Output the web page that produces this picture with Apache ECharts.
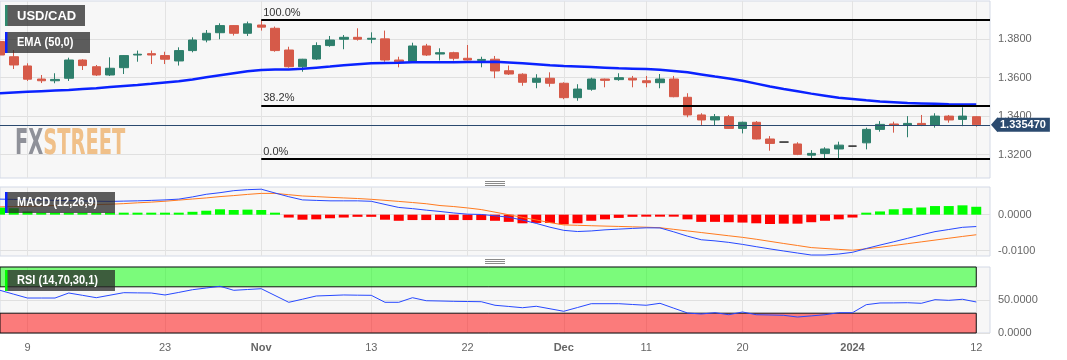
<!DOCTYPE html>
<html>
<head>
<meta charset="utf-8">
<script src="https://cdn.jsdelivr.net/npm/echarts@6/dist/echarts.min.js"></script>
<style>
html,body{margin:0;padding:0;background:#ffffff;}
#c{width:1067px;height:360px;}
</style>
</head>
<body>
<div id="c"></div>
<script>
// ---------- DATA ----------
const dates = [
 '2023-10-05','2023-10-06',
 '2023-10-09','2023-10-10','2023-10-11','2023-10-12','2023-10-13',
 '2023-10-16','2023-10-17','2023-10-18','2023-10-19','2023-10-20',
 '2023-10-23','2023-10-24','2023-10-25','2023-10-26','2023-10-27',
 '2023-10-30','2023-10-31','2023-11-01','2023-11-02','2023-11-03',
 '2023-11-06','2023-11-07','2023-11-08','2023-11-09','2023-11-10',
 '2023-11-13','2023-11-14','2023-11-15','2023-11-16','2023-11-17',
 '2023-11-20','2023-11-21','2023-11-22','2023-11-23','2023-11-24',
 '2023-11-27','2023-11-28','2023-11-29','2023-11-30','2023-12-01',
 '2023-12-04','2023-12-05','2023-12-06','2023-12-07','2023-12-08',
 '2023-12-11','2023-12-12','2023-12-13','2023-12-14','2023-12-15',
 '2023-12-18','2023-12-19','2023-12-20','2023-12-21','2023-12-22',
 '2023-12-25','2023-12-26','2023-12-27','2023-12-28','2023-12-29',
 '2024-01-01','2024-01-02','2024-01-03','2024-01-04','2024-01-05',
 '2024-01-08','2024-01-09','2024-01-10','2024-01-11','2024-01-12'
];
const axisPadDate = '2024-01-15';

const open = [
 1.3788,1.3709,
 1.3661,1.3593,1.3584,1.3597,1.3692,
 1.3657,1.3614,1.3652,1.3718,1.3725,
 1.3715,1.3687,1.3741,1.3796,1.3834,
 1.3871,1.3831,1.3874,1.3857,1.3744,
 1.3657,1.3697,1.3767,1.3800,1.3810,
 1.3800,1.3802,1.3692,1.3683,1.3765,
 1.3723,1.3730,1.3701,1.3690,1.3696,
 1.3636,1.3618,1.3576,1.3597,1.3571,
 1.3496,1.3540,1.3593,1.3590,1.3597,
 1.3584,1.3574,1.3593,1.3498,1.3406,
 1.3380,1.3397,1.3336,1.3368,1.3281,
 1.3265,1.3255,1.3197,1.3206,1.3229,
 1.3244,1.3261,1.3331,1.3359,1.3352,
 1.3362,1.3354,1.3400,1.3383,1.3397
];
const close = [
 1.3718,1.3666,
 1.3592,1.3584,1.3591,1.3692,1.3663,
 1.3614,1.3649,1.3715,1.3722,1.3718,
 1.3696,1.3741,1.3796,1.3831,1.3871,
 1.3831,1.3880,1.3863,1.3741,1.3657,
 1.3696,1.3767,1.3796,1.3810,1.3800,
 1.3805,1.3692,1.3683,1.3765,1.3718,
 1.3730,1.3701,1.3692,1.3695,1.3635,
 1.3619,1.3576,1.3597,1.3571,1.3496,
 1.3541,1.3593,1.3586,1.3600,1.3588,
 1.3574,1.3593,1.3501,1.3406,1.3380,
 1.3397,1.3336,1.3368,1.3281,1.3258,
 1.3265,1.3201,1.3206,1.3229,1.3249,
 1.3244,1.3331,1.3357,1.3352,1.3362,
 1.3354,1.3400,1.3380,1.3400,1.3355
];
const low = [
 1.3708,1.3645,
 1.3583,1.3572,1.3571,1.3583,1.3640,
 1.3609,1.3609,1.3619,1.3683,1.3671,
 1.3671,1.3663,1.3732,1.3784,1.3800,
 1.3819,1.3817,1.3845,1.3735,1.3652,
 1.3631,1.3692,1.3761,1.3748,1.3793,
 1.3779,1.3683,1.3654,1.3680,1.3713,
 1.3689,1.3689,1.3689,1.3654,1.3597,
 1.3614,1.3558,1.3545,1.3553,1.3488,
 1.3480,1.3532,1.3550,1.3584,1.3550,
 1.3550,1.3545,1.3498,1.3394,1.3354,
 1.3350,1.3334,1.3310,1.3279,1.3220,
 1.3265,1.3197,1.3178,1.3178,1.3178,
 1.3244,1.3227,1.3319,1.3314,1.3290,
 1.3348,1.3340,1.3366,1.3348,1.3345
];
const high = [
 1.3807,1.3744,
 1.3675,1.3614,1.3623,1.3704,1.3696,
 1.3666,1.3706,1.3718,1.3741,1.3741,
 1.3735,1.3758,1.3810,1.3848,1.3883,
 1.3874,1.3892,1.3900,1.3866,1.3761,
 1.3698,1.3784,1.3817,1.3822,1.3857,
 1.3836,1.3845,1.3709,1.3782,1.3776,
 1.3753,1.3735,1.3770,1.3709,1.3713,
 1.3663,1.3623,1.3618,1.3628,1.3576,
 1.3566,1.3600,1.3595,1.3623,1.3609,
 1.3609,1.3619,1.3609,1.3519,1.3415,
 1.3411,1.3406,1.3371,1.3374,1.3296,
 1.3265,1.3264,1.3223,1.3238,1.3267,
 1.3244,1.3340,1.3374,1.3371,1.3400,
 1.3406,1.3415,1.3406,1.3446,1.3400
];
const ema50 = [
 1.3519,1.3523,1.3527,1.3530,1.3533,1.3536,1.3541,1.3545,1.3551,1.3557,
 1.3562,1.3568,1.3575,1.3581,1.3591,1.3602,1.3613,1.3623,1.3633,1.3640,
 1.3642,1.3643,1.3646,1.3652,1.3658,1.3665,1.3670,1.3675,1.3677,1.3678,
 1.3680,1.3680,1.3680,1.3680,1.3681,1.3682,1.3683,1.3679,1.3675,1.3670,
 1.3665,1.3661,1.3658,1.3655,1.3652,1.3649,1.3647,1.3645,1.3641,1.3635,
 1.3628,1.3617,1.3606,1.3596,1.3584,1.3569,1.3554,1.3541,1.3529,1.3517,
 1.3506,1.3495,1.3489,1.3482,1.3476,1.3472,1.3468,1.3466,1.3464,1.3462,
 1.3461,1.3461
];
const macdLine = [
 0.00433,0.00425,0.00416,0.00408,0.00399,0.00391,0.00383,0.00374,0.00369,0.00377,
 0.00385,0.00397,0.00411,0.00433,0.00494,0.00567,0.00612,0.00668,0.00696,0.00709,
 0.00603,0.00500,0.00411,0.00397,0.00385,0.00385,0.00385,0.00372,0.00285,0.00201,
 0.00168,0.00126,0.00089,0.00047,0.00014,0.00006,-0.00031,-0.00070,-0.00151,-0.00243,
 -0.00349,-0.00436,-0.00469,-0.00453,-0.00422,-0.00402,-0.00383,-0.00366,-0.00369,-0.00478,
 -0.00598,-0.00698,-0.00729,-0.00771,-0.00827,-0.00891,-0.00953,-0.01011,-0.01067,-0.01123,
 -0.01123,-0.01095,-0.01047,-0.00941,-0.00846,-0.00754,-0.00659,-0.00561,-0.00472,-0.00413,
 -0.00352,-0.00330
];
const signalLine = [
 0.00218,0.00226,0.00235,0.00246,0.00254,0.00263,0.00271,0.00282,0.00291,0.00307,
 0.00330,0.00349,0.00374,0.00405,0.00436,0.00466,0.00503,0.00531,0.00564,0.00592,
 0.00592,0.00556,0.00520,0.00503,0.00483,0.00466,0.00450,0.00427,0.00399,0.00369,
 0.00338,0.00304,0.00254,0.00226,0.00187,0.00142,0.00070,-0.00003,-0.00075,-0.00148,
 -0.00221,-0.00285,-0.00296,-0.00307,-0.00318,-0.00327,-0.00338,-0.00349,-0.00363,-0.00408,
 -0.00453,-0.00497,-0.00542,-0.00587,-0.00631,-0.00684,-0.00743,-0.00802,-0.00858,-0.00916,
 -0.00941,-0.00966,-0.00989,-0.00950,-0.00908,-0.00858,-0.00807,-0.00757,-0.00707,-0.00656,
 -0.00606,-0.00559
];
const macdHist = [
 0.0020,0.0018,0.0009,0.0003,0.0003,0.0003,0.0003,0.0003,0.0002,0.0002,
 0.0002,0.0002,0.0003,0.0003,0.0008,0.0011,0.0015,0.0013,0.0014,0.0013,
 0.0002,-0.0008,-0.0014,-0.0013,-0.0010,-0.0008,-0.0006,-0.0006,-0.0014,-0.0017,
 -0.0015,-0.0015,-0.0015,-0.0015,-0.0015,-0.0015,-0.0017,-0.0020,-0.0024,-0.0023,
 -0.0023,-0.0027,-0.0024,-0.0017,-0.0013,-0.0009,-0.0006,-0.0005,-0.0003,-0.0005,
 -0.0013,-0.0020,-0.0020,-0.0021,-0.0022,-0.0024,-0.0026,-0.0025,-0.0025,-0.0021,
 -0.0017,-0.0013,-0.0008,0.0001,0.0009,0.0015,0.0018,0.0020,0.0024,0.0024,
 0.0026,0.0022
];
const rsi = [
 64.7,58.8,53.0,53.0,53.0,60.6,57.1,53.5,57.3,61.1,
 60.8,60.6,57.6,61.5,65.6,68.2,70.8,64.7,65.9,67.1,
 56.8,46.5,51.2,56.1,56.8,57.6,57.3,57.1,46.5,46.5,
 53.5,48.9,48.5,48.0,47.7,47.4,42.0,40.2,38.3,40.5,
 36.7,32.9,38.6,44.4,44.4,44.4,43.2,42.0,45.0,37.6,
 30.3,28.8,30.8,27.7,31.8,27.7,27.3,26.8,24.2,25.9,
 27.7,30.8,30.8,42.9,45.5,45.6,45.9,45.0,50.5,49.5,
 51.1,47.0
];
const tickLabels = {
 '2023-10-09':'9','2023-10-23':'23','2023-11-01':'Nov','2023-11-13':'13','2023-11-22':'22',
 '2023-12-01':'Dec','2023-12-11':'11','2023-12-20':'20','2024-01-01':'2024','2024-01-12':'12'
};
const boldTickLabels = ['Nov','Dec','2024'];
const priceTicks = [1.32, 1.34, 1.36, 1.38];
const macdTicks = [-0.01, 0];
const rsiTicks = [0, 50];
const fibStart = '2023-11-01';
const fibLevels = [1.3900, 1.3453, 1.3177];
const fibNames = ['100.0%', '38.2%', '0.0%'];
const lastPrice = 1.335470;
const rsiUpperBand = [70, 100];
const rsiLowerBand = [0, 30];
const paneTitles = ['USD/CAD', 'EMA (50,0)', 'MACD (12,26,9)', 'RSI (14,70,30,1)'];

// ---------- CHART ----------
const FONT = '"Liberation Sans", Arial, sans-serif';
const UP = '#2e7f6c', DOWN = '#d65a49';
const cats = dates.concat([axisPadDate]);
const lastIdx = cats.length - 1;
const fibStartIdx = dates.indexOf(fibStart);

const candleData = dates.map((d, i) => {
  const item = { value: [open[i], close[i], low[i], high[i]] };
  if (open[i] === close[i] && high[i] === low[i]) {
    item.itemStyle = { color: '#222', color0: '#222', borderColor: '#222', borderColor0: '#222' };
  }
  return item;
});
const histData = macdHist.map(v => ({ value: v, itemStyle: { color: v >= 0 ? '#00ff00' : '#ff0000' } }));

const isTick = (i, v) => tickLabels[v] !== undefined;

function xAxisFor(gridIndex, showLabels) {
  return {
    type: 'category', gridIndex: gridIndex, data: cats, boundaryGap: false,
    axisLine: { show: false }, axisTick: { show: false },
    axisLabel: {
      show: showLabels, interval: isTick, margin: 9, color: '#666', fontSize: 11, fontFamily: FONT,
      formatter: v => { const l = tickLabels[v] || ''; return boldTickLabels.indexOf(l) >= 0 ? '{b|' + l + '}' : l; },
      rich: { b: { fontWeight: 'bold', color: '#666', fontSize: 11, fontFamily: FONT } }
    },
    splitLine: { show: true, interval: isTick, lineStyle: { color: '#e3e3e3', width: 1 } }
  };
}
function yAxisFor(gridIndex, min, max, ticks) {
  return {
    type: 'value', gridIndex: gridIndex, position: 'right', min: min, max: max,
    axisLine: { show: false },
    axisTick: { show: false, customValues: ticks },
    axisLabel: { customValues: ticks, margin: 8, color: '#666', fontSize: 11, fontFamily: FONT,
      formatter: v => Number(v).toFixed(4) },
    splitLine: { show: true, lineStyle: { color: '#e0e0e0', width: 1 } }
  };
}
const gridStyle = { show: true, backgroundColor: '#f7f7f7', borderColor: '#d3d9e6', borderWidth: 1 };

const option = {
  animation: false,
  textStyle: { fontFamily: FONT },
  grid: [
    Object.assign({ left: 0, top: 1, width: 990, height: 177 }, gridStyle),
    Object.assign({ left: 0, top: 187, width: 990, height: 69 }, gridStyle),
    Object.assign({ left: 0, top: 267, width: 990, height: 66 }, gridStyle)
  ],
  xAxis: [xAxisFor(0, false), xAxisFor(1, false), xAxisFor(2, true)],
  yAxis: [
    yAxisFor(0, 1.3078, 1.3999, priceTicks),
    yAxisFor(1, -0.0115, 0.0077, macdTicks),
    yAxisFor(2, 0, 100, rsiTicks)
  ],
  series: [
    {
      type: 'candlestick', name: 'USD/CAD', xAxisIndex: 0, yAxisIndex: 0,
      data: candleData, barWidth: 9,
      itemStyle: { color: UP, color0: DOWN, borderColor: UP, borderColor0: DOWN, borderWidth: 1 },
      markLine: {
        silent: true, symbol: ['none', 'none'], animation: false, precision: 6,
        data: fibLevels.map((v, j) => [
          { coord: [fibStartIdx, v], lineStyle: { color: '#000', width: 2.2, type: 'solid' },
            label: { show: true, position: 'insideStartTop', formatter: fibNames[j], color: '#333',
                     fontSize: 11, fontFamily: FONT, distance: 2 } },
          { coord: [lastIdx, v] }
        ]).concat([
          { yAxis: lastPrice, lineStyle: { color: '#2b4a6f', width: 1, type: 'solid' },
            label: { show: true, position: 'end', formatter: lastPrice.toFixed(6), color: '#fff',
                     fontWeight: 'bold', fontSize: 11, fontFamily: FONT, backgroundColor: '#2b4a6f',
                     padding: [2, 4, 1, 3], distance: [7, 0] } }
        ])
      }
    },
    {
      type: 'line', name: 'EMA', xAxisIndex: 0, yAxisIndex: 0, data: ema50,
      symbol: 'none', lineStyle: { color: '#0a22ff', width: 2.5 }, z: 3
    },
    {
      type: 'bar', name: 'Hist', xAxisIndex: 1, yAxisIndex: 1, data: histData,
      barWidth: 10, barMinHeight: 2
    },
    {
      type: 'line', name: 'MACD', xAxisIndex: 1, yAxisIndex: 1, data: macdLine,
      symbol: 'none', lineStyle: { color: '#2748ff', width: 1 }, z: 4
    },
    {
      type: 'line', name: 'Signal', xAxisIndex: 1, yAxisIndex: 1, data: signalLine,
      symbol: 'none', lineStyle: { color: '#ff7a1f', width: 1 }, z: 3
    },
    {
      type: 'line', name: 'RSI', xAxisIndex: 2, yAxisIndex: 2, data: rsi,
      symbol: 'none', lineStyle: { color: '#2748ff', width: 1 }, z: 4,
      markArea: {
        silent: true,
        data: [
          [{ coord: [0, rsiUpperBand[0]], itemStyle: { color: 'rgba(0,255,0,0.5)', borderColor: '#111', borderWidth: 1 } },
           { coord: [dates.length - 1, rsiUpperBand[1]] }],
          [{ coord: [0, rsiLowerBand[0]], itemStyle: { color: 'rgba(255,0,0,0.5)', borderColor: '#111', borderWidth: 1 } },
           { coord: [dates.length - 1, rsiLowerBand[1]] }]
        ]
      }
    }
  ]
};

const chart = echarts.init(document.getElementById('c'), null, { renderer: 'canvas', width: 1067, height: 360 });
chart.setOption(option);

// ---------- decorations ----------
function tag(id, y, w, barColor, label, size, sx) {
  return [
    { type: 'rect', id: id + 'bg', z: 100, shape: { x: 5, y: y, width: w, height: 21 }, style: { fill: 'rgba(40,40,40,0.75)' } },
    { type: 'rect', id: id + 'bar', z: 101, shape: { x: 5, y: y, width: 2.5, height: 21 }, style: { fill: barColor } },
    { type: 'text', id: id + 'tx', z: 102, x: 17, y: y + 11, scaleX: sx,
      style: { text: label, fill: '#fff', font: 'bold ' + size + 'px ' + FONT, verticalAlign: 'middle' } }
  ];
}
const priceY = chart.convertToPixel({ yAxisIndex: 0 }, lastPrice);
const graphics = []
  .concat([{
    type: 'text', id: 'wm', z: 1, x: 15, y: 145, scaleX: 0.54,
    style: { text: '{a|FX}{b|STREET}', verticalAlign: 'middle',
      rich: { a: { fill: '#8f9199', fontSize: 36, fontWeight: 'bold', fontFamily: '"DejaVu Sans"' },
              b: { fill: '#f0c089', fontSize: 36, fontWeight: 'bold', fontFamily: '"DejaVu Sans"' } } }
  }])
  .concat(tag('t0', 5, 80, '#2e8b6e', paneTitles[0], 13, 1))
  .concat(tag('t1', 32, 85, '#0a22ff', paneTitles[1], 12, 0.92))
  .concat(tag('t2', 192, 110, '#0a22ff', paneTitles[2], 12, 0.92))
  .concat(tag('t3', 270, 110, '#00ff00', paneTitles[3], 12, 0.92))
  .concat([181.5, 183.5, 185.5, 259.5, 261.5, 263.5].map((y, i) => ({
    type: 'line', id: 'h' + i, z: 100, shape: { x1: 485, y1: y, x2: 505, y2: y }, style: { stroke: '#8a8a8a', lineWidth: 1 }
  })))
  .concat([{
    type: 'polygon', id: 'arrow', z: 100,
    shape: { points: [[991, priceY], [997.5, priceY - 7.5], [997.5, priceY + 7.5]] },
    style: { fill: '#2b4a6f' }
  }]);
chart.setOption({ graphic: graphics });
</script>
</body>
</html>
